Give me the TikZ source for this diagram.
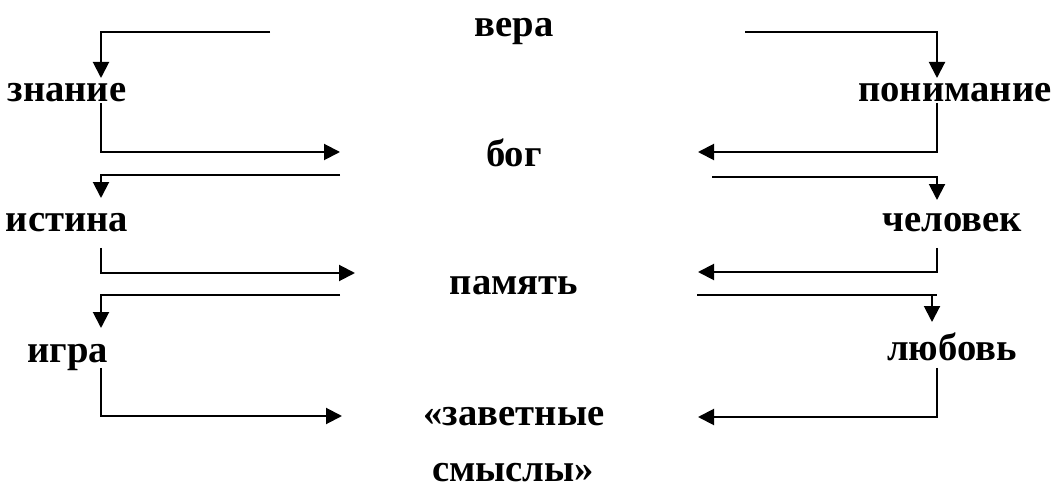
\documentclass[tikz,border=0pt]{standalone}
\usepackage{fontspec}
\setmainfont{Liberation Serif}
\usetikzlibrary{arrows.meta}

\begin{document}
\begin{tikzpicture}[x=0.02cm,y=-0.02cm]
\tikzset{
  word/.style = {font=\fontsize{22}{26}\selectfont\bfseries, inner sep=0pt, anchor=base},
  link/.style = {line width=0.04cm},
  arr/.style  = {link, -{Triangle[length=0.32cm,width=0.32cm]}}
}
\useasboundingbox (0,0) rectangle (1051,489);

    % middle column
    \node[word] (vera)    at (514,37)  {вера};
    \node[word] (bog)     at (514,167) {бог};
    \node[word] (pamyat)  at (514,295) {память};
    \node[word] (zavet)   at (514,425) {«заветные};
    \node[word] (smysly)  at (513,481) {смыслы»};
    % left column
    \node[word] (znanie)  at (67,102)  {знание};
    \node[word] (istina)  at (67,232)  {истина};
    \node[word] (igra)    at (68,362)  {игра};
    % right column
    \node[word] (ponim)   at (955,102) {понимание};
    \node[word] (chelovek) at (952,232) {человек};
    \node[word] (lyubov)  at (952,360) {любовь};

    %%%%%%%%%%%%%%%%%%%%%%%%%%%%%%%%%%%%%%%%%%
    \coordinate (vera-l)    at (270,32);
    \coordinate (vera-r)    at (745,32);
    \coordinate (bog-inl)   at (340,152);
    \coordinate (bog-inr)   at (698,152);
    \coordinate (bog-l)     at (340,175);
    \coordinate (bog-r)     at (712,177);
    \coordinate (pamyat-inl) at (355,273);
    \coordinate (pamyat-inr) at (698,272);
    \coordinate (pamyat-l)  at (340,295);
    \coordinate (pamyat-r)  at (697,295);
    \coordinate (pamyat-re) at (937,295);
    \coordinate (zavet-inl) at (342,416);
    \coordinate (zavet-inr) at (698,417);

    \coordinate (znanie-in)   at (101,78);
    \coordinate (znanie-out)  at (101,103);
    \coordinate (istina-in)   at (101,198);
    \coordinate (istina-out)  at (101,248);
    \coordinate (igra-in)     at (101,328);
    \coordinate (igra-out)    at (101,368);
    \coordinate (ponim-in)    at (937,78);
    \coordinate (ponim-out)   at (937,103);
    \coordinate (chelovek-in) at (937,200);
    \coordinate (chelovek-out) at (937,248);
    \coordinate (lyubov-top)  at (932,295);
    \coordinate (lyubov-in)   at (932,322);
    \coordinate (lyubov-out)  at (937,368);

    \draw[arr] (vera-l) -| (znanie-in);
    \draw[arr] (vera-r) -| (ponim-in);
    \draw[arr] (znanie-out) |- (bog-inl);
    \draw[arr] (ponim-out) |- (bog-inr);
    \draw[arr] (bog-l) -| (istina-in);
    \draw[arr] (bog-r) -| (chelovek-in);
    \draw[arr] (istina-out) |- (pamyat-inl);
    \draw[arr] (chelovek-out) |- (pamyat-inr);
    \draw[arr] (pamyat-l) -| (igra-in);
    \draw[link] (pamyat-r) -- (pamyat-re);
    \draw[arr] (lyubov-top) -- (lyubov-in);
    \draw[arr] (igra-out) |- (zavet-inl);
    \draw[arr] (lyubov-out) |- (zavet-inr);
\end{tikzpicture}
\end{document}
